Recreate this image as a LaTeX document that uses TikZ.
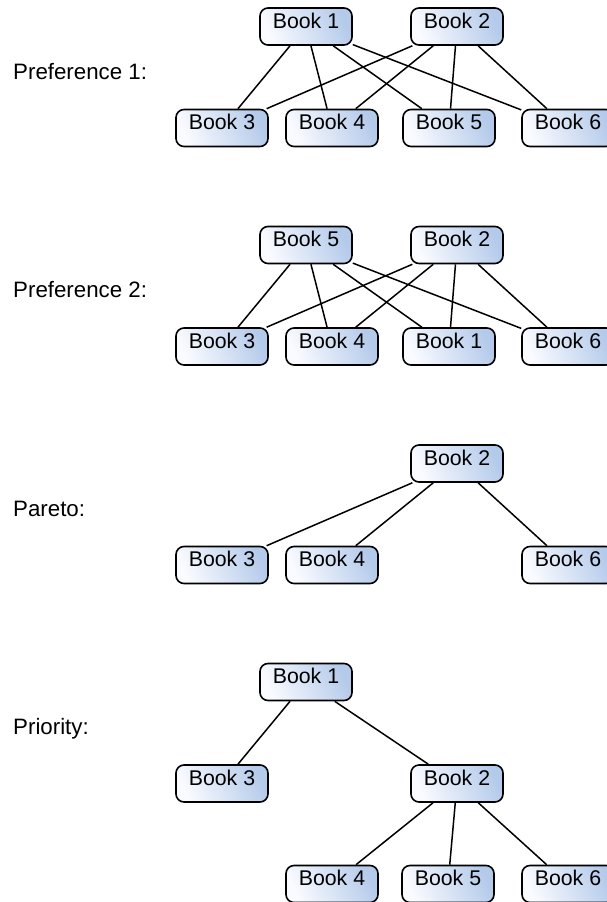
\documentclass[tikz,border=0pt]{standalone}
\usepackage{fontspec}
\setmainfont{Liberation Sans}
\definecolor{bookblue}{RGB}{180,202,234}
\definecolor{bookwhite}{RGB}{250,251,255}
\tikzset{
  book/.style={draw=black, line width=1.6pt, rounded corners=8pt,
    minimum width=92pt, inner xsep=4pt, inner ysep=5pt,
    text height=15pt, text depth=12pt,
    left color=bookwhite, right color=bookblue, shading angle=115,
    font=\fontsize{21.3}{25}\selectfont},
  lbl/.style={anchor=base west, inner sep=0pt, font=\fontsize{22.3}{26}\selectfont},
  edge/.style={draw=black, line width=1.5pt}
}
\begin{document}
\begin{tikzpicture}[x=1pt,y=-1pt]
\useasboundingbox (0,0) rectangle (606,902);
% Section 1
\node[lbl] (l1) at (13,79) {Preference 1:};
\node[book] (a1) at (306,26.5) {Book 1};
\node[book] (a2) at (457,26.5) {Book 2};
\node[book] (a3) at (222,128) {Book 3};
\node[book] (a4) at (332,128) {Book 4};
\node[book] (a5) at (449,128) {Book 5};
\node[book] (a6) at (568,128) {Book 6};
\foreach \t in {a1,a2}{\foreach \b in {a3,a4,a5,a6}{\draw[edge] (\t) -- (\b);}}
% Section 2
\node[lbl] (l2) at (13,297.5) {Preference 2:};
\node[book] (b5) at (306,245) {Book 5};
\node[book] (b2) at (457,245) {Book 2};
\node[book] (b3) at (222,346.5) {Book 3};
\node[book] (b4) at (332,346.5) {Book 4};
\node[book] (b1) at (449,346.5) {Book 1};
\node[book] (b6) at (568,346.5) {Book 6};
\foreach \t in {b5,b2}{\foreach \b in {b3,b4,b1,b6}{\draw[edge] (\t) -- (\b);}}
% Section 3
\node[lbl] (l3) at (13,516) {Pareto:};
\node[book] (c2) at (457,463.5) {Book 2};
\node[book] (c3) at (222,565) {Book 3};
\node[book] (c4) at (332,565) {Book 4};
\node[book] (c6) at (568,565) {Book 6};
\foreach \b in {c3,c4,c6}{\draw[edge] (c2) -- (\b);}
% Section 4
\node[lbl] (l4) at (13,734.5) {Priority:};
\node[book] (d1) at (306,682) {Book 1};
\node[book] (d3) at (222,783.5) {Book 3};
\node[book] (d2) at (457,783.5) {Book 2};
\node[book] (d4) at (332,884) {Book 4};
\node[book] (d5) at (448,884) {Book 5};
\node[book] (d6) at (568,884) {Book 6};
\draw[edge] (d1) -- (d3);
\draw[edge] (d1) -- (d2);
\foreach \b in {d4,d5,d6}{\draw[edge] (d2) -- (\b);}
\end{tikzpicture}
\end{document}
